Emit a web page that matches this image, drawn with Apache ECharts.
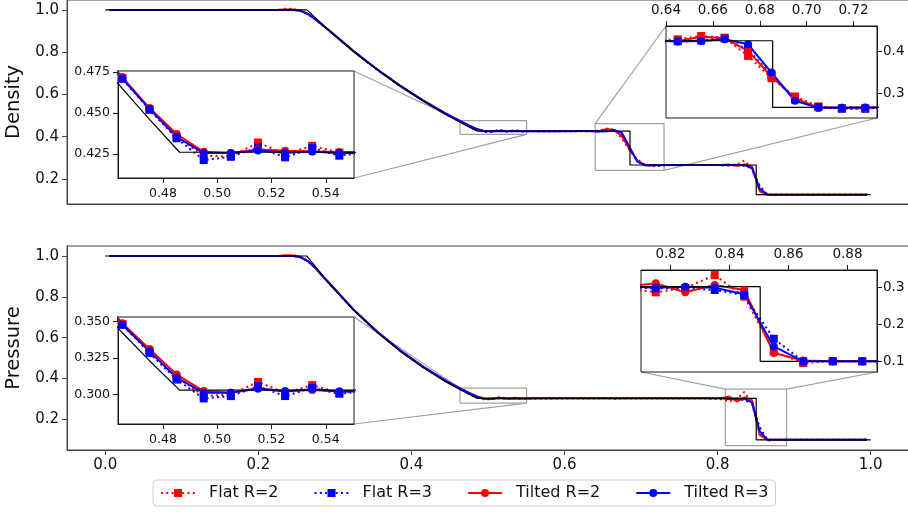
<!DOCTYPE html>
<html><head><meta charset="utf-8">
<script src="https://cdn.jsdelivr.net/npm/echarts@6/dist/echarts.min.js"></script>
<style>html,body{margin:0;padding:0;background:#fff;}#c{width:908px;height:512px;}</style>
</head><body><div id="c"></div>
<script>
// ---------- data ----------
const X = [0.005, 0.225, 0.235, 0.245, 0.255, 0.265, 0.275, 0.285, 0.295, 0.325,
  0.355, 0.385, 0.415, 0.445, 0.455, 0.465, 0.475, 0.485, 0.495, 0.505,
  0.515, 0.525, 0.535, 0.545, 0.555, 0.565, 0.605, 0.625, 0.635, 0.645,
  0.655, 0.665, 0.675, 0.685, 0.695, 0.705, 0.715, 0.725, 0.735, 0.745,
  0.785, 0.805, 0.815, 0.825, 0.835, 0.845, 0.855, 0.865, 0.875, 0.885,
  0.895, 0.905, 0.995];

const RHO_FLAT2 = [1.0, 1.0, 1.006, 1.005, 0.996, 0.979, 0.953, 0.924, 0.894, 0.802,
  0.718, 0.641, 0.571, 0.508, 0.489, 0.4712, 0.4522, 0.4355, 0.4240, 0.4235,
  0.4320, 0.4250, 0.4300, 0.4258, 0.4265, 0.4255, 0.4265, 0.4258, 0.4262, 0.4296,
  0.4376, 0.4336, 0.3896, 0.3360, 0.2920, 0.2680, 0.2630, 0.2630, 0.2660, 0.2650,
  0.2660, 0.2650, 0.2630, 0.2680, 0.2870, 0.2450, 0.1440, 0.1220, 0.1255, 0.125,
  0.125, 0.125, 0.125];
const RHO_FLAT3 = [1.0, 1.0, 1.0, 1.0, 0.996, 0.980, 0.954, 0.924, 0.894, 0.802,
  0.718, 0.641, 0.571, 0.508, 0.489, 0.4709, 0.4520, 0.4346, 0.4213, 0.4234,
  0.4290, 0.4230, 0.4287, 0.4240, 0.4262, 0.4250, 0.4258, 0.4262, 0.4258, 0.4250,
  0.4270, 0.4320, 0.4050, 0.3440, 0.2850, 0.2660, 0.2624, 0.2624, 0.2650, 0.2656,
  0.2656, 0.2650, 0.2640, 0.2650, 0.2620, 0.2500, 0.1670, 0.1260, 0.1250, 0.125,
  0.125, 0.125, 0.125];
const RHO_TILT2 = [1.0, 1.0, 1.002, 1.002, 0.996, 0.980, 0.954, 0.925, 0.895, 0.803,
  0.719, 0.642, 0.572, 0.509, 0.490, 0.4719, 0.4530, 0.4372, 0.4264, 0.4256,
  0.4277, 0.4270, 0.4265, 0.4262, 0.4262, 0.4262, 0.4262, 0.4262, 0.4258, 0.4255,
  0.4360, 0.4320, 0.4016, 0.3400, 0.2880, 0.2650, 0.2650, 0.2650, 0.2656, 0.2656,
  0.2656, 0.2660, 0.2680, 0.2620, 0.2680, 0.2600, 0.1410, 0.1260, 0.1250, 0.125,
  0.125, 0.125, 0.125];
const RHO_TILT3 = [1.0, 1.0, 1.0, 1.0, 0.996, 0.981, 0.955, 0.925, 0.895, 0.803,
  0.719, 0.642, 0.572, 0.509, 0.490, 0.4710, 0.4525, 0.4355, 0.4256, 0.4256,
  0.4272, 0.4258, 0.4265, 0.4255, 0.4258, 0.4260, 0.4260, 0.4262, 0.4262, 0.4245,
  0.4256, 0.4300, 0.4176, 0.3496, 0.2816, 0.2645, 0.2650, 0.2655, 0.2656, 0.2656,
  0.2656, 0.2656, 0.2655, 0.2660, 0.2650, 0.2510, 0.1530, 0.1260, 0.1250, 0.125,
  0.125, 0.125, 0.125];

const P_FLAT2 = [1.0, 1.0, 1.004, 1.004, 0.995, 0.973, 0.938, 0.896, 0.856, 0.734,
  0.629, 0.537, 0.457, 0.388, 0.367, 0.3482, 0.3300, 0.3120, 0.2989, 0.3000,
  0.3086, 0.3011, 0.3064, 0.3011, 0.3030, 0.3020, 0.3035, 0.3025, 0.3030, 0.3040,
  0.3050, 0.3010, 0.3020, 0.3035, 0.3025, 0.3030, 0.3030, 0.3030, 0.3030, 0.3030,
  0.3030, 0.2980, 0.2874, 0.2990, 0.3342, 0.2757, 0.1270, 0.0955, 0.1005, 0.1,
  0.1, 0.1, 0.1];
const P_FLAT3 = [1.0, 1.0, 1.0, 1.0, 0.995, 0.974, 0.939, 0.897, 0.857, 0.735,
  0.630, 0.538, 0.458, 0.389, 0.368, 0.3477, 0.3284, 0.3102, 0.2973, 0.2989,
  0.3057, 0.2989, 0.3045, 0.3005, 0.3025, 0.3015, 0.3031, 0.3031, 0.3031, 0.3031,
  0.3031, 0.3031, 0.3031, 0.3031, 0.3031, 0.3031, 0.3031, 0.3031, 0.3031, 0.3031,
  0.3031, 0.3010, 0.2985, 0.2980, 0.2937, 0.2800, 0.1613, 0.1000, 0.1000, 0.1,
  0.1, 0.1, 0.1];
const P_TILT2 = [1.0, 1.0, 1.002, 1.002, 0.995, 0.974, 0.939, 0.897, 0.857, 0.735,
  0.630, 0.538, 0.458, 0.389, 0.369, 0.3488, 0.3311, 0.3136, 0.3023, 0.3011,
  0.3041, 0.3023, 0.3030, 0.3020, 0.3030, 0.3030, 0.3031, 0.3031, 0.3031, 0.3031,
  0.3031, 0.3031, 0.3031, 0.3031, 0.3031, 0.3031, 0.3031, 0.3031, 0.3031, 0.3031,
  0.3031, 0.3040, 0.3117, 0.2874, 0.3072, 0.2937, 0.1225, 0.1020, 0.1000, 0.1,
  0.1, 0.1, 0.1];
const P_TILT3 = [1.0, 1.0, 1.0, 1.0, 0.995, 0.975, 0.940, 0.898, 0.858, 0.735,
  0.630, 0.538, 0.458, 0.389, 0.368, 0.3477, 0.3295, 0.3115, 0.3011, 0.3011,
  0.3041, 0.3020, 0.3035, 0.3020, 0.3025, 0.3030, 0.3031, 0.3031, 0.3031, 0.3031,
  0.3031, 0.3031, 0.3031, 0.3031, 0.3031, 0.3031, 0.3031, 0.3031, 0.3031, 0.3031,
  0.3031, 0.3031, 0.3000, 0.3027, 0.3000, 0.2820, 0.1405, 0.1000, 0.1000, 0.1,
  0.1, 0.1, 0.1];

const EXACT_X   = [0.0, 0.2634, 0.295, 0.325, 0.355, 0.385, 0.415, 0.445, 0.465, 0.475, 0.4861, 0.6855, 0.6855, 0.8504, 0.8504, 1.0];
const EXACT_RHO = [1.0, 1.0, 0.8933, 0.8010, 0.7163, 0.6389, 0.5684, 0.5042, 0.4649, 0.4461, 0.4261, 0.4261, 0.2656, 0.2656, 0.125, 0.125];
const EXACT_P   = [1.0, 1.0, 0.8539, 0.7329, 0.6268, 0.5341, 0.4535, 0.3834, 0.3422, 0.3231, 0.3030, 0.3030, 0.3030, 0.3030, 0.1, 0.1];

const NAMES = ['Flat R=2', 'Flat R=3', 'Tilted R=2', 'Tilted R=3'];

// axis ranges and tick labels
const MAIN_X_RANGE = [-0.05, 1.05];
const RHO_Y_RANGE = [0.081, 1.047];
const P_Y_RANGE = [0.05, 1.049];
const INSET_RHO_A_X = [0.4634, 0.5504], INSET_RHO_A_Y = [0.4104, 0.4756];
const INSET_RHO_B_X = [0.64, 0.73],     INSET_RHO_B_Y = [0.24, 0.4617];
const INSET_P_A_X = [0.4634, 0.5504],   INSET_P_A_Y = [0.2798, 0.353];
const INSET_P_B_X = [0.81, 0.89],       INSET_P_B_Y = [0.071, 0.348];

const MAIN_X_TICKS = [0.0, 0.2, 0.4, 0.6, 0.8, 1.0];
const MAIN_Y_TICKS = [0.2, 0.4, 0.6, 0.8, 1.0];
const INSET_A_X_TICKS = [0.48, 0.50, 0.52, 0.54];
const RHO_A_Y_TICKS = [0.425, 0.450, 0.475];
const RHO_B_X_TICKS = [0.64, 0.66, 0.68, 0.70, 0.72];
const RHO_B_Y_TICKS = [0.3, 0.4];
const P_A_Y_TICKS = [0.300, 0.325, 0.350];
const P_B_X_TICKS = [0.82, 0.84, 0.86, 0.88];
const P_B_Y_TICKS = [0.1, 0.2, 0.3];

// ---------- chart ----------
const FONT = 'DejaVu Sans';
const INK = '#1a1a1a', SPINE = '#444';
const chart = echarts.init(document.getElementById('c'), null, {renderer: 'canvas'});

const gridBoxes = [
  {left: 67, top: 0, width: 842, height: 204},
  {left: 67, top: 246, width: 842, height: 204},
  {left: 118, top: 71, width: 236, height: 107},
  {left: 666, top: 26, width: 211, height: 92},
  {left: 118, top: 317, width: 236, height: 107},
  {left: 641, top: 270, width: 236, height: 102}
];
const grid = gridBoxes.map((g, i) => Object.assign({
  show: true, borderColor: i < 2 ? SPINE : INK, borderWidth: 1,
  backgroundColor: i < 2 ? 'rgba(0,0,0,0)' : '#fff',
  containLabel: false, outerBoundsMode: 'none', z: i < 2 ? 0 : 3
}, g));

function axis(gi, range, ticks, dec, pos, fs, showLabel, margin, color, z, showTick) {
  return {
    type: 'value', gridIndex: gi, min: range[0], max: range[1], position: pos, z: z,
    axisLine: {show: true, onZero: false, lineStyle: {color: color, width: 1}},
    axisTick: {show: showTick !== false, customValues: ticks, length: 5, lineStyle: {color: color, width: 1}},
    axisLabel: {show: showLabel, customValues: ticks, formatter: v => Number(v).toFixed(dec),
      fontSize: fs, fontFamily: FONT, color: '#111', margin: margin},
    splitLine: {show: false}, minorTick: {show: false}, minorSplitLine: {show: false}
  };
}

const xAxis = [
  axis(0, MAIN_X_RANGE, MAIN_X_TICKS, 1, 'bottom', 15, false, 8, SPINE, 0, false),
  axis(1, MAIN_X_RANGE, MAIN_X_TICKS, 1, 'bottom', 15, true, 8, SPINE, 0),
  axis(2, INSET_RHO_A_X, INSET_A_X_TICKS, 2, 'bottom', 12.5, true, 9, INK, 5),
  axis(3, INSET_RHO_B_X, RHO_B_X_TICKS, 2, 'top', 13.5, true, 9, INK, 5),
  axis(4, INSET_P_A_X, INSET_A_X_TICKS, 2, 'bottom', 12.5, true, 9, INK, 5),
  axis(5, INSET_P_B_X, P_B_X_TICKS, 2, 'top', 13.5, true, 9, INK, 5)
];
const yAxis = [
  Object.assign(axis(0, RHO_Y_RANGE, MAIN_Y_TICKS, 1, 'left', 15, true, 8, SPINE, 0),
    {name: 'Density', nameLocation: 'middle', nameRotate: 90, nameGap: 35,
     nameTextStyle: {fontSize: 19.5, fontFamily: FONT, color: '#111'}}),
  Object.assign(axis(1, P_Y_RANGE, MAIN_Y_TICKS, 1, 'left', 15, true, 8, SPINE, 0),
    {name: 'Pressure', nameLocation: 'middle', nameRotate: 90, nameGap: 35,
     nameTextStyle: {fontSize: 19.5, fontFamily: FONT, color: '#111'}}),
  axis(2, INSET_RHO_A_Y, RHO_A_Y_TICKS, 3, 'left', 12.5, true, 8, INK, 5),
  axis(3, INSET_RHO_B_Y, RHO_B_Y_TICKS, 1, 'right', 13.5, true, 6, INK, 5),
  axis(4, INSET_P_A_Y, P_A_Y_TICKS, 3, 'left', 12.5, true, 8, INK, 5),
  axis(5, INSET_P_B_Y, P_B_Y_TICKS, 1, 'right', 13.5, true, 6, INK, 5)
];

const STYLES = [
  {name: NAMES[0], color: '#ff0000', dash: [2, 3.3], symbol: 'rect'},
  {name: NAMES[1], color: '#0000ff', dash: [2, 3.3], symbol: 'rect'},
  {name: NAMES[2], color: '#ff0000', dash: 'solid', symbol: 'circle'},
  {name: NAMES[3], color: '#0000ff', dash: 'solid', symbol: 'circle'}
];
const RHO_SETS = [RHO_FLAT2, RHO_FLAT3, RHO_TILT2, RHO_TILT3];
const P_SETS = [P_FLAT2, P_FLAT3, P_TILT2, P_TILT3];

function pairs(xs, ys) { return xs.map((x, i) => [x, ys[i]]); }

function seriesFor(gi, sets, exactY, withSymbols, z) {
  const out = sets.map((ys, k) => ({
    type: 'line', name: STYLES[k].name, xAxisIndex: gi, yAxisIndex: gi,
    data: pairs(X, ys), clip: true, z: z,
    symbol: withSymbols ? STYLES[k].symbol : 'none', symbolSize: 8, showSymbol: withSymbols,
    itemStyle: {color: STYLES[k].color, borderWidth: 0},
    lineStyle: {color: STYLES[k].color, width: 2, type: STYLES[k].dash, cap: 'butt'},
    emphasis: {disabled: true}, silent: true, animation: false
  }));
  out.push({
    type: 'line', xAxisIndex: gi, yAxisIndex: gi, data: pairs(EXACT_X, exactY), clip: true, z: z,
    symbol: 'none', lineStyle: {color: '#000', width: 1.2}, emphasis: {disabled: true},
    silent: true, animation: false
  });
  return out;
}

function boxSeries(gi, xr, yr) {
  return {
    type: 'line', xAxisIndex: gi, yAxisIndex: gi, z: 1, symbol: 'none', silent: true, animation: false,
    data: [[xr[0], yr[0]], [xr[1], yr[0]], [xr[1], yr[1]], [xr[0], yr[1]], [xr[0], yr[0]]],
    lineStyle: {color: '#a0a0a0', width: 1.2}, emphasis: {disabled: true}
  };
}

const series = [].concat(
  seriesFor(2, RHO_SETS, EXACT_RHO, true, 6),
  seriesFor(3, RHO_SETS, EXACT_RHO, true, 6),
  seriesFor(4, P_SETS, EXACT_P, true, 6),
  seriesFor(5, P_SETS, EXACT_P, true, 6),
  seriesFor(0, RHO_SETS, EXACT_RHO, false, 2),
  seriesFor(1, P_SETS, EXACT_P, false, 2),
  [boxSeries(0, INSET_RHO_A_X, INSET_RHO_A_Y), boxSeries(0, INSET_RHO_B_X, INSET_RHO_B_Y),
   boxSeries(1, INSET_P_A_X, INSET_P_A_Y), boxSeries(1, INSET_P_B_X, INSET_P_B_Y)]
);

chart.setOption({
  animation: false,
  backgroundColor: '#fff',
  textStyle: {fontFamily: FONT},
  grid: grid, xAxis: xAxis, yAxis: yAxis, series: series,
  legend: {
    data: NAMES, left: 153, top: 480, orient: 'horizontal',
    itemWidth: 34, itemHeight: 10, itemGap: 35, padding: [5, 7, 5, 7],
    borderColor: '#cccccc', borderWidth: 1, borderRadius: 4, backgroundColor: '#fff',
    selectedMode: false,
    textStyle: {fontSize: 16, fontFamily: FONT, color: '#111', padding: [0, 0, 0, 9]}
  }
});

// connector lines between the inset frames and the zoom boxes
function px(g, x, y) { return chart.convertToPixel({gridIndex: g}, [x, y]); }
function seg(a, b) {
  return {type: 'line', z: 1, silent: true,
    shape: {x1: a[0], y1: a[1], x2: b[0], y2: b[1]},
    style: {stroke: '#a0a0a0', lineWidth: 1.2}};
}
const links = [
  seg(px(2, INSET_RHO_A_X[1], INSET_RHO_A_Y[1]), px(0, INSET_RHO_A_X[0], INSET_RHO_A_Y[1])),
  seg(px(2, INSET_RHO_A_X[1], INSET_RHO_A_Y[0]), px(0, INSET_RHO_A_X[1], INSET_RHO_A_Y[0])),
  seg(px(0, INSET_RHO_B_X[0], INSET_RHO_B_Y[1]), px(3, INSET_RHO_B_X[0], INSET_RHO_B_Y[1])),
  seg(px(0, INSET_RHO_B_X[1], INSET_RHO_B_Y[0]), px(3, INSET_RHO_B_X[1], INSET_RHO_B_Y[0])),
  seg(px(4, INSET_P_A_X[1], INSET_P_A_Y[1]), px(1, INSET_P_A_X[0], INSET_P_A_Y[1])),
  seg(px(4, INSET_P_A_X[1], INSET_P_A_Y[0]), px(1, INSET_P_A_X[1], INSET_P_A_Y[0])),
  seg(px(1, INSET_P_B_X[0], INSET_P_B_Y[1]), px(5, INSET_P_B_X[0], INSET_P_B_Y[0])),
  seg(px(1, INSET_P_B_X[1], INSET_P_B_Y[1]), px(5, INSET_P_B_X[1], INSET_P_B_Y[0]))
];
chart.setOption({graphic: links});
</script>
</body></html>
